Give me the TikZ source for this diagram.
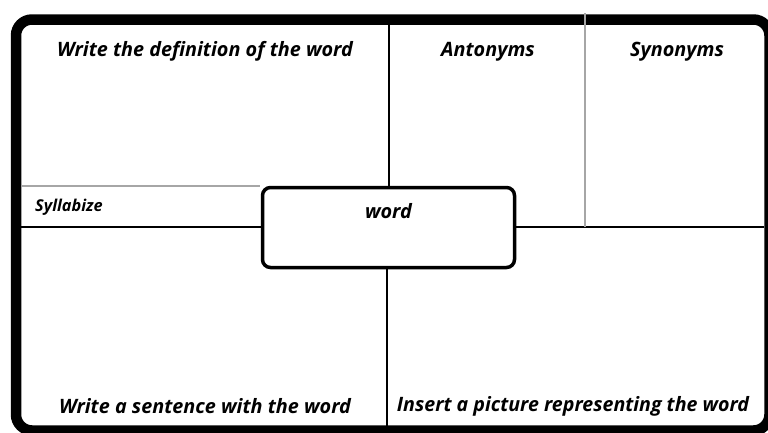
\documentclass[tikz,border=0pt]{standalone}
\usepackage{fontspec}
\setmainfont{Open Sans}
\begin{document}
\begin{tikzpicture}[x=1pt,y=-1pt,
  lbl/.style={font=\fontsize{19.8}{23}\selectfont\bfseries\itshape, inner sep=0pt},
  small/.style={font=\fontsize{16.3}{19}\selectfont\bfseries\itshape, inner sep=0pt},
  rule/.style={line width=1.8pt, black},
  greyrule/.style={line width=1.8pt, gray!70},
  wordbox/.style={draw, line width=3.5pt, rounded corners=8pt, minimum width=252pt, minimum height=80pt, inner sep=0pt}]
\useasboundingbox (0,0) rectangle (768,432);
\clip (0,0) rectangle (768,432);
% outer frame, partly running off the page on the right and bottom
\draw[line width=10.5pt, rounded corners=16pt] (16,19.5) rectangle (769.5,430.5);
% central word box
\node[wordbox] (word) at (388.5,227.5) {};
\node[lbl] (wordtxt) at (388.5,211) {word};
% frame reference points
\coordinate (topmid) at (389,25);
\coordinate (botmid) at (387,427);
\coordinate (leftmid) at (21,227);
\coordinate (rightmid) at (764,227);
\coordinate (syntop) at (585,13);
\coordinate (synbot) at (585,227);
\coordinate (sylL) at (22,186);
\coordinate (sylR) at (260,186);
% dividing lines
\draw[rule] (topmid) -- (word.north -| topmid);
\draw[rule] (word.south -| botmid) -- (botmid);
\draw[rule] (leftmid) -- (word.west |- leftmid);
\draw[rule] (word.east |- rightmid) -- (rightmid);
\draw[greyrule] (syntop) -- (synbot);
\draw[greyrule] (sylL) -- (sylR);
% captions
\node[lbl] (def) at (205,51) {Write the definition of the word};
\node[lbl] (ant) at (488,52) {Antonyms};
\node[lbl] (syn) at (677,52) {Synonyms};
\node[small, anchor=west] (syl) at (35,207) {Syllabize};
\node[lbl] (sent) at (205,406) {Write a sentence with the word};
\node[lbl, xscale=0.99] (pic) at (573,406) {Insert a picture representing the word};
\end{tikzpicture}
\end{document}
